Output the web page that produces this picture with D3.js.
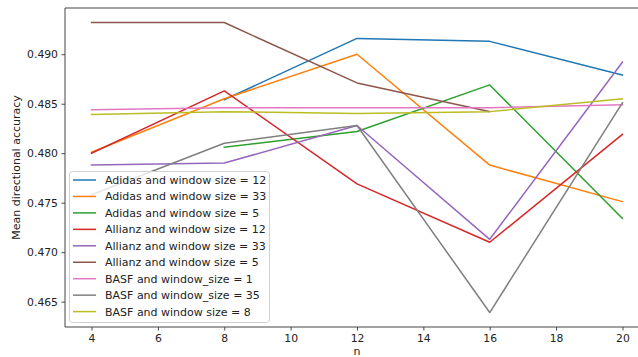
<!DOCTYPE html>
<html>
<head>
<meta charset="utf-8">
<script src="https://cdn.jsdelivr.net/npm/d3@7"></script>
<style>
  html, body { margin: 0; padding: 0; background: #fff; overflow: hidden; }
  svg { display: block; font-family: "DejaVu Sans", sans-serif; }
</style>
</head>
<body>
<svg id="chart" width="638" height="357"></svg>
<script>
// ---- data ----
const nValues = [4, 8, 12, 16, 20];
const seriesNames = [
  "Adidas and window size = 12",
  "Adidas and window size = 33",
  "Adidas and window size = 5",
  "Allianz and window size = 12",
  "Allianz and window size = 33",
  "Allianz and window size = 5",
  "BASF and window_size = 1",
  "BASF and window_size = 35",
  "BASF and window size = 8"
];
const adidas12 = [null, 0.4854, 0.4916, 0.4913, 0.4879];
const adidas33 = [0.4801, 0.4855, 0.4900, 0.4788, 0.4751];
const adidas5  = [null, 0.4806, 0.4822, 0.4869, 0.4734];
const allianz12 = [0.4800, 0.4863, 0.4769, 0.4710, 0.4819];
const allianz33 = [0.4788, 0.4790, 0.4828, 0.4713, 0.4892];
const allianz5  = [0.4932, 0.4932, 0.4871, 0.4842, null];
const basf1  = [0.4844, 0.4846, 0.4846, 0.4846, 0.4849];
const basf35 = [0.4758, 0.4810, 0.4828, 0.4639, 0.4851];
const basf8  = [0.4839, 0.4842, 0.4840, 0.4842, 0.4855];
const allSeries = [adidas12, adidas33, adidas5, allianz12, allianz33, allianz5, basf1, basf35, basf8];
const colors = ["#1f77b4", "#ff7f0e", "#2ca02c", "#d62728", "#9467bd", "#8c564b", "#e377c2", "#7f7f7f", "#bcbd22"];
const xTicks = [4, 6, 8, 10, 12, 14, 16, 18, 20];
const yTicks = [0.465, 0.470, 0.475, 0.480, 0.485, 0.490];
const xLabel = "n";
const yLabel = "Mean directional accuracy";

// ---- layout ----
const svg = d3.select("#chart");
const mLeft = 65, mTop = 8, mBottom = 327, mRight = 649;
const x = d3.scaleLinear().domain([3.2, 20.8]).range([mLeft, mRight]);
const y = d3.scaleLinear().domain([0.46244, 0.49467]).range([mBottom, mTop]);

// lines
const line = d3.line()
  .defined(d => d.v !== null)
  .x(d => x(d.n))
  .y(d => y(d.v));

allSeries.forEach((s, i) => {
  const pts = nValues.map((n, j) => ({ n, v: s[j] }));
  svg.append("path")
    .datum(pts)
    .attr("d", line)
    .attr("fill", "none")
    .attr("stroke", colors[i])
    .attr("stroke-width", 1.5)
    .attr("stroke-linejoin", "round")
    .attr("stroke-linecap", "square");
});

// axes
const xAxis = d3.axisBottom(x).tickValues(xTicks).tickSize(3.5).tickPadding(3.5).tickFormat(d3.format("d"));
const yAxis = d3.axisLeft(y).tickValues(yTicks).tickSize(3.5).tickPadding(3.5).tickFormat(d3.format(".3f"));

const gx = svg.append("g").attr("transform", `translate(0,${mBottom})`).call(xAxis);
const gy = svg.append("g").attr("transform", `translate(${mLeft},0)`).call(yAxis);
[gx, gy].forEach(g => {
  g.select(".domain").remove();
  g.selectAll(".tick line").attr("stroke", "#333").attr("stroke-width", 0.9);
  g.selectAll(".tick text").attr("fill", "#222").style("font-size", "10.8px").style("font-family", "DejaVu Sans");
});

// spines
svg.append("line").attr("x1", mLeft).attr("x2", mRight).attr("y1", mTop).attr("y2", mTop).attr("stroke", "#444").attr("stroke-width", 1);
svg.append("line").attr("x1", mLeft).attr("x2", mRight).attr("y1", mBottom).attr("y2", mBottom).attr("stroke", "#444").attr("stroke-width", 1);
svg.append("line").attr("x1", mLeft).attr("x2", mLeft).attr("y1", mTop).attr("y2", mBottom).attr("stroke", "#444").attr("stroke-width", 1);

// axis labels
svg.append("text").attr("x", x(12)).attr("y", 355).attr("text-anchor", "middle")
  .style("font-size", "11px").attr("fill", "#222").text(xLabel);
svg.append("text").attr("transform", `translate(20,${(mTop + mBottom) / 2}) rotate(-90)`)
  .attr("text-anchor", "middle").style("font-size", "11px").attr("fill", "#222").text(yLabel);

// legend
const lg = svg.append("g");
lg.append("rect").attr("x", 69.5).attr("y", 171.5).attr("width", 200).attr("height", 151)
  .attr("rx", 3).attr("fill", "#fff").attr("fill-opacity", 0.8).attr("stroke", "#d0d0d0").attr("stroke-width", 1);
seriesNames.forEach((name, i) => {
  const cy = 180 + i * 16.45;
  lg.append("line").attr("x1", 73).attr("x2", 96).attr("y1", cy).attr("y2", cy)
    .attr("stroke", colors[i]).attr("stroke-width", 1.5);
  lg.append("text").attr("x", 105).attr("y", cy).attr("dy", "0.36em")
    .style("font-size", "11px").attr("fill", "#222").text(name);
});
</script>
</body>
</html>
